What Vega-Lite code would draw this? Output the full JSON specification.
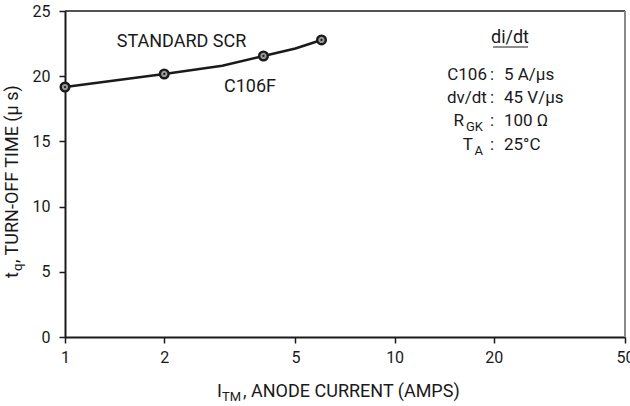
{
  "$schema": "https://vega.github.io/schema/vega-lite/v6.json",
  "width": 560,
  "height": 326,
  "autosize": {"type": "none"},
  "padding": {"left": 65, "top": 11, "right": 5, "bottom": 69},
  "background": "white",
  "config": {
    "view": {"stroke": null},
    "font": "Roboto",
    "axis": {
      "grid": false,
      "domainColor": "#1a1a1a",
      "domainWidth": 2,
      "tickColor": "#1a1a1a",
      "tickWidth": 1.5,
      "tickSize": 6,
      "labelFont": "Roboto",
      "labelFontSize": 16,
      "labelColor": "#1a1a1a"
    },
    "text": {"color": "#1a1a1a", "font": "Roboto"}
  },
  "datasets": {
    "curve": [
      {"current": 1, "tq": 19.17},
      {"current": 2, "tq": 20.17},
      {"current": 3, "tq": 20.8},
      {"current": 4, "tq": 21.55},
      {"current": 5, "tq": 22.12},
      {"current": 6, "tq": 22.78}
    ],
    "measured": [
      {"current": 1, "tq": 19.17},
      {"current": 2, "tq": 20.17},
      {"current": 4, "tq": 21.55},
      {"current": 6, "tq": 22.78}
    ],
    "notes": [
      {"group": "anno", "text": "STANDARD SCR", "x": 2.257, "y": 22.62},
      {"group": "anno", "text": "C106F", "x": 3.64, "y": 19.17},
      {"group": "anno", "text": "di/dt", "x": 22.39, "y": 22.93},
      {"group": "param", "text": "C106", "x": 19.06, "y": 20.09},
      {"group": "param", "text": "dv/dt", "x": 19.06, "y": 18.33},
      {"group": "param", "text": "R", "x": 16.24, "y": 16.56},
      {"group": "param", "text": "T", "x": 17.29, "y": 14.72},
      {"group": "psub", "text": "GK", "x": 18.54, "y": 16.1},
      {"group": "psub", "text": "A", "x": 18.54, "y": 14.26},
      {"group": "colon", "text": ":", "x": 19.75, "y": 20.09},
      {"group": "colon", "text": ":", "x": 19.75, "y": 18.33},
      {"group": "colon", "text": ":", "x": 19.75, "y": 16.56},
      {"group": "colon", "text": ":", "x": 19.75, "y": 14.72},
      {"group": "value", "text": "5 A/μs", "x": 21.47, "y": 20.09},
      {"group": "value", "text": "45 V/μs", "x": 21.47, "y": 18.33},
      {"group": "value", "text": "100 Ω", "x": 21.47, "y": 16.56},
      {"group": "value", "text": "25°C", "x": 21.47, "y": 14.72},
      {"group": "xtitle", "text": "I", "x": 2.892, "y": -4.6},
      {"group": "xtitle", "text": ", ANODE CURRENT (AMPS)", "x": 3.468, "y": -4.6},
      {"group": "xsub", "text": "TM", "x": 2.995, "y": -4.91},
      {"group": "ytitle", "text": "t", "x": 0.72, "y": 4.52},
      {"group": "ytitle", "text": ", TURN-OFF TIME (μ s)", "x": 0.72, "y": 5.67},
      {"group": "ysub", "text": "q", "x": 0.742, "y": 5.06}
    ],
    "underline": [
      {"x": 19.89, "x2": 25.39, "y": 22.24}
    ]
  },
  "layer": [
    {
      "data": {"name": "curve"},
      "mark": {"type": "line", "color": "#1a1a1a", "strokeWidth": 2.5},
      "encoding": {
        "x": {
          "field": "current", "type": "quantitative", "title": null,
          "scale": {"type": "log", "domain": [1, 50], "nice": false},
          "axis": {"values": [1, 2, 5, 10, 20, 50], "format": "~g", "labelPadding": 6, "labelFlush": false, "labelOverlap": false, "title": null}
        },
        "y": {
          "field": "tq", "type": "quantitative", "title": null,
          "scale": {"domain": [0, 25], "nice": false},
          "axis": {"values": [0, 5, 10, 15, 20, 25], "labelPadding": 9, "title": null}
        }
      }
    },
    {
      "data": {"values": [{}]},
      "mark": {"type": "rule", "color": "#1a1a1a", "strokeWidth": 1.5},
      "encoding": {"y": {"datum": 25, "type": "quantitative", "title": null}}
    },
    {
      "data": {"values": [{}]},
      "mark": {"type": "rule", "color": "#888", "strokeWidth": 2},
      "encoding": {"x": {"datum": 50, "type": "quantitative", "title": null}}
    },
    {
      "data": {"name": "measured"},
      "mark": {"type": "point", "shape": "circle", "size": 75, "filled": true, "fill": "#999", "stroke": "#1a1a1a", "strokeWidth": 2.4, "opacity": 1},
      "encoding": {
        "x": {"field": "current", "type": "quantitative", "title": null},
        "y": {"field": "tq", "type": "quantitative", "title": null}
      }
    },
    {
      "data": {"name": "measured"},
      "mark": {"type": "point", "shape": "circle", "size": 5, "filled": true, "fill": "#1a1a1a", "opacity": 1},
      "encoding": {
        "x": {"field": "current", "type": "quantitative", "title": null},
        "y": {"field": "tq", "type": "quantitative", "title": null}
      }
    },
    {
      "data": {"name": "underline"},
      "mark": {"type": "rule", "color": "#1a1a1a", "strokeWidth": 1.2},
      "encoding": {
        "x": {"field": "x", "type": "quantitative", "title": null},
        "x2": {"field": "x2"},
        "y": {"field": "y", "type": "quantitative", "title": null}
      }
    },
    {
      "data": {"name": "notes"},
      "transform": [{"filter": "datum.group === 'anno'"}],
      "mark": {"type": "text", "fontSize": 18, "align": "center", "baseline": "middle"},
      "encoding": {
        "x": {"field": "x", "type": "quantitative", "title": null},
        "y": {"field": "y", "type": "quantitative", "title": null},
        "text": {"field": "text"}
      }
    },
    {
      "data": {"name": "notes"},
      "transform": [{"filter": "datum.group === 'param'"}],
      "mark": {"type": "text", "fontSize": 17, "align": "right", "baseline": "middle"},
      "encoding": {
        "x": {"field": "x", "type": "quantitative", "title": null},
        "y": {"field": "y", "type": "quantitative", "title": null},
        "text": {"field": "text"}
      }
    },
    {
      "data": {"name": "notes"},
      "transform": [{"filter": "datum.group === 'psub'"}],
      "mark": {"type": "text", "fontSize": 13, "align": "right", "baseline": "middle"},
      "encoding": {
        "x": {"field": "x", "type": "quantitative", "title": null},
        "y": {"field": "y", "type": "quantitative", "title": null},
        "text": {"field": "text"}
      }
    },
    {
      "data": {"name": "notes"},
      "transform": [{"filter": "datum.group === 'colon'"}],
      "mark": {"type": "text", "fontSize": 17, "align": "center", "baseline": "middle"},
      "encoding": {
        "x": {"field": "x", "type": "quantitative", "title": null},
        "y": {"field": "y", "type": "quantitative", "title": null},
        "text": {"field": "text"}
      }
    },
    {
      "data": {"name": "notes"},
      "transform": [{"filter": "datum.group === 'value'"}],
      "mark": {"type": "text", "fontSize": 17, "align": "left", "baseline": "middle"},
      "encoding": {
        "x": {"field": "x", "type": "quantitative", "title": null},
        "y": {"field": "y", "type": "quantitative", "title": null},
        "text": {"field": "text"}
      }
    },
    {
      "data": {"name": "notes"},
      "transform": [{"filter": "datum.group === 'xtitle'"}],
      "mark": {"type": "text", "fontSize": 18, "align": "left", "baseline": "alphabetic"},
      "encoding": {
        "x": {"field": "x", "type": "quantitative", "title": null},
        "y": {"field": "y", "type": "quantitative", "title": null},
        "text": {"field": "text"}
      }
    },
    {
      "data": {"name": "notes"},
      "transform": [{"filter": "datum.group === 'xsub'"}],
      "mark": {"type": "text", "fontSize": 13, "align": "left", "baseline": "alphabetic"},
      "encoding": {
        "x": {"field": "x", "type": "quantitative", "title": null},
        "y": {"field": "y", "type": "quantitative", "title": null},
        "text": {"field": "text"}
      }
    },
    {
      "data": {"name": "notes"},
      "transform": [{"filter": "datum.group === 'ytitle'"}],
      "mark": {"type": "text", "fontSize": 18, "align": "left", "baseline": "alphabetic", "angle": 270},
      "encoding": {
        "x": {"field": "x", "type": "quantitative", "title": null},
        "y": {"field": "y", "type": "quantitative", "title": null},
        "text": {"field": "text"}
      }
    },
    {
      "data": {"name": "notes"},
      "transform": [{"filter": "datum.group === 'ysub'"}],
      "mark": {"type": "text", "fontSize": 13, "align": "left", "baseline": "alphabetic", "angle": 270},
      "encoding": {
        "x": {"field": "x", "type": "quantitative", "title": null},
        "y": {"field": "y", "type": "quantitative", "title": null},
        "text": {"field": "text"}
      }
    }
  ]
}
